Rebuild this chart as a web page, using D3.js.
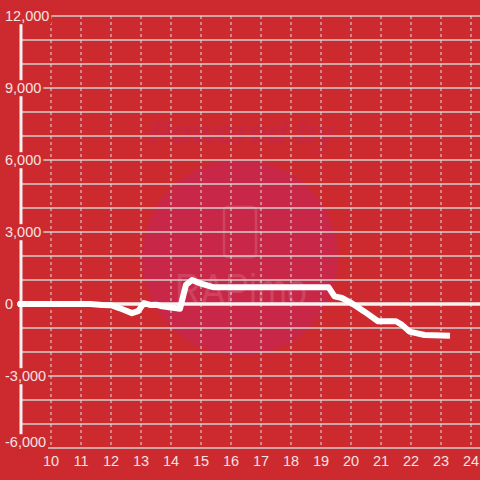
<!DOCTYPE html>
<html>
<head>
<meta charset="utf-8">
<script src="https://cdn.jsdelivr.net/npm/d3@7"></script>
<style>
  html, body { margin: 0; padding: 0; background: #cc2a2e; }
  svg { display: block; font-family: "Liberation Sans", Arial, sans-serif; }
</style>
</head>
<body>
<svg id="chart"></svg>
<script>
// hours of the day (x) and the running value (y)
const hours = [9, 11, 11.3, 11.7, 12, 12.3, 12.7, 12.9, 13.1, 13.3, 13.5, 13.7, 14, 14.3, 14.5, 14.7, 15, 15.4,
  19.25, 19.45, 19.7, 20, 20.45, 20.9, 21.5, 21.7, 21.95, 22.45, 23.2]
const values = [0, 0, 0, -40, -50, -180, -380, -300, 40, -40, -30, -100, -150, -200, 800, 1000, 850, 700,
  700, 320, 250, 50, -320, -720, -720, -870, -1150, -1290, -1320]

const xTicks = [10, 11, 12, 13, 14, 15, 16, 17, 18, 19, 20, 21, 22, 23, 24]
const yGrid = d3.range(-6000, 12001, 1000)
const yLabels = [12000, 9000, 6000, 3000, 0, -3000, -6000]

const width = 480, height = 480
const textColor = "#f6e2e2"

const svg = d3.select("#chart")
  .attr("width", width)
  .attr("height", height)

const x = d3.scaleLinear().domain([10, 24]).range([51, 471])
const y = d3.scaleLinear().domain([-6000, 12000]).range([448, 16])

svg.append("rect")
  .attr("width", width)
  .attr("height", height)
  .attr("fill", "#cc2a2e")

// watermark
const wm = svg.append("g")
wm.append("text")
  .attr("x", 242)
  .attr("y", 144)
  .attr("text-anchor", "middle")
  .attr("font-size", 33)
  .attr("font-weight", "bold")
  .attr("font-style", "italic")
  .attr("fill", "#c8283f")
  .text("Powered by")
wm.append("circle")
  .attr("cx", 240)
  .attr("cy", 258)
  .attr("r", 98)
  .attr("fill", "#c82748")
wm.append("rect")
  .attr("x", 224)
  .attr("y", 207)
  .attr("width", 32)
  .attr("height", 50)
  .attr("rx", 4)
  .attr("fill", "none")
  .attr("stroke", "#cf4360")
  .attr("stroke-width", 2.5)
wm.append("text")
  .attr("x", 175)
  .attr("y", 305)
  .attr("font-size", 44)
  .attr("textLength", 132)
  .attr("lengthAdjust", "spacingAndGlyphs")
  .attr("fill", "#cf4360")
  .text("RAPimo")

// horizontal grid
svg.append("g")
  .selectAll("line")
  .data(yGrid)
  .enter().append("line")
  .attr("x1", 21)
  .attr("x2", width)
  .attr("y1", d => y(d))
  .attr("y2", d => y(d))
  .attr("stroke", "#d4d0d0")
  .attr("stroke-width", 1.3)

// vertical dashed grid
svg.append("g")
  .selectAll("line")
  .data(xTicks)
  .enter().append("line")
  .attr("x1", d => x(d))
  .attr("x2", d => x(d))
  .attr("y1", y(12000))
  .attr("y2", y(-6000))
  .attr("stroke", "#e4dede")
  .attr("stroke-width", 1)
  .attr("stroke-dasharray", "3,3")

// y axis line
svg.append("line")
  .attr("x1", 21)
  .attr("x2", 21)
  .attr("y1", y(12000))
  .attr("y2", y(-6000))
  .attr("stroke", "#f4f0f0")
  .attr("stroke-width", 3)

// y labels with background box (bottom one nudged up to stay inside)
const yl = svg.append("g")
  .selectAll("g")
  .data(yLabels)
  .enter().append("g")
  .attr("transform", d => `translate(5,${d === -6000 ? y(d) - 6 : y(d)})`)

yl.append("text")
  .attr("dy", "0.36em")
  .attr("font-size", 14.5)
  .attr("fill", textColor)
  .text(d => d3.format(",")(d).replace("−", "-"))
  .each(function () {
    const b = this.getBBox()
    d3.select(this.parentNode).insert("rect", "text")
      .attr("x", b.x - 2)
      .attr("y", b.y)
      .attr("width", b.width + 4)
      .attr("height", b.height)
      .attr("fill", "#cc2a2e")
  })

// x labels
svg.append("g")
  .selectAll("text")
  .data(xTicks)
  .enter().append("text")
  .attr("x", d => x(d))
  .attr("y", 466)
  .attr("text-anchor", "middle")
  .attr("font-size", 14.5)
  .attr("fill", textColor)
  .text(d => d)

// zero line
svg.append("line")
  .attr("x1", 17)
  .attr("x2", width)
  .attr("y1", y(0))
  .attr("y2", y(0))
  .attr("stroke", "#f6f2f2")
  .attr("stroke-width", 3.5)

// data line
const line = d3.line()
  .x((d, i) => x(hours[i]))
  .y(d => y(d))

svg.append("path")
  .datum(values)
  .attr("d", line)
  .attr("fill", "none")
  .attr("stroke", "#ffffff")
  .attr("stroke-width", 6)
  .attr("stroke-linejoin", "round")
  .attr("stroke-linecap", "square")
</script>
</body>
</html>
